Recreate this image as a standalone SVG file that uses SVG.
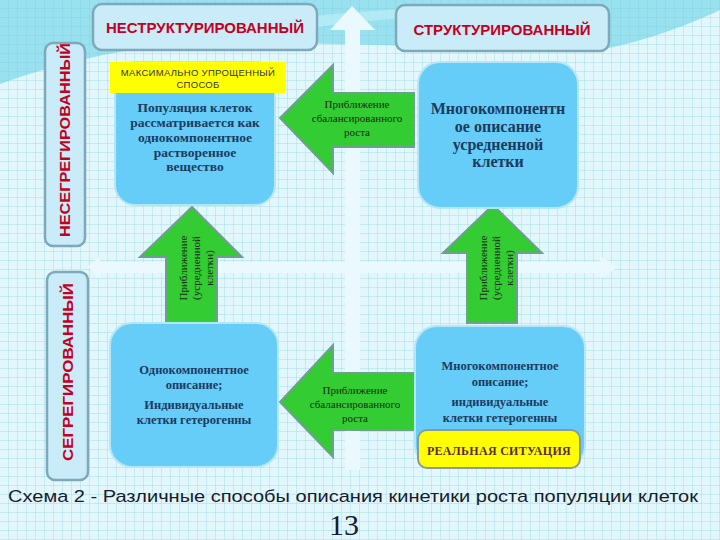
<svg xmlns="http://www.w3.org/2000/svg" width="720" height="540" viewBox="0 0 720 540">
<defs>
<pattern id="grid" width="9" height="9" patternUnits="userSpaceOnUse">
<rect width="9" height="9" fill="#e2f7fc"/>
<path d="M9 0V9M0 9H9" stroke="#a8dbe6" stroke-width="1" fill="none"/>
</pattern>
<style>
.hdr{fill:#c9ecf8;stroke:#7ea9ba;stroke-width:2.5}
.hdrt{font-family:"Liberation Sans",Arial,sans-serif;font-weight:bold;font-size:15px;fill:#c4001f;text-anchor:middle}
.node{fill:#66ccf8;stroke:#b5e6f6;stroke-width:2}
.nt{font-family:"Liberation Serif","Times New Roman",serif;font-weight:bold;fill:#1b3b5e;text-anchor:middle}
.arr{fill:#33cc33;stroke:#6f9f8f;stroke-width:2}
.at{font-family:"Liberation Serif","Times New Roman",serif;font-size:11px;fill:#1a2a1a;text-anchor:middle}
.pale{fill:#eaf9fd}
</style>
</defs>
<rect width="720" height="540" fill="url(#grid)"/>
<g id="background">
<path d="M0 0H720V10C690 24 650 40 600 50L330 44C220 40 130 38 0 84Z" fill="#5fcfe6" opacity="0.55"/>
<path d="M300 18C360 10 420 8 500 6L500 14C420 16 360 20 300 30Z" fill="#b8ecf6" opacity="0.8"/>
<path d="M345 30H330L352 6L375 30H360V470H345Z" class="pale"/>
<path d="M100 262H600V256L618 267L600 279V273H100V279L88 267L100 256Z" class="pale"/>
</g>
<g id="connectors">
<g id="arrow-top">
<path class="arr" d="M414 93V147H333V173L280 118L333 65V93Z"/>
<text class="at" x="357" y="108">Приближение</text>
<text class="at" x="357" y="122">сбалансированного</text>
<text class="at" x="357" y="136">роста</text>
</g>
<g id="arrow-bottom">
<path class="arr" d="M415 373V430H333V457L280 402L333 345V373Z"/>
<text class="at" x="355" y="394">Приближение</text>
<text class="at" x="355" y="408">сбалансированного</text>
<text class="at" x="355" y="422">роста</text>
</g>
<g id="arrow-left-up">
<path class="arr" d="M166 322V257H140L192 207L242 257H217V322Z"/>
<g transform="translate(197 268) rotate(-90)">
<text class="at" x="0" y="-10">Приближение</text>
<text class="at" x="0" y="3">(усредненной</text>
<text class="at" x="0" y="16">клетки)</text>
</g>
</g>
<g id="arrow-right-up">
<path class="arr" d="M467 323V253H443L493 205L542 253H517V323Z"/>
<g transform="translate(497 268) rotate(-90)">
<text class="at" x="0" y="-10">Приближение</text>
<text class="at" x="0" y="3">(усредненной</text>
<text class="at" x="0" y="16">клетки)</text>
</g>
</g>
</g>
<g id="header-unstructured">
<rect class="hdr" x="93" y="4" width="224" height="46" rx="9"/>
<text class="hdrt" x="205" y="33">НЕСТРУКТУРИРОВАННЫЙ</text>
</g>
<g id="header-structured">
<rect class="hdr" x="396" y="5" width="213" height="46" rx="9"/>
<text class="hdrt" x="502" y="35">СТРУКТУРИРОВАННЫЙ</text>
</g>
<g id="header-nonsegregated">
<rect class="hdr" x="45" y="43" width="40" height="203" rx="8"/>
<text class="hdrt" transform="translate(70 140) rotate(-90)" x="0" y="0" textLength="194" lengthAdjust="spacingAndGlyphs">НЕСЕГРЕГИРОВАННЫЙ</text>
</g>
<g id="header-segregated">
<rect class="hdr" x="47" y="272" width="41" height="208" rx="8"/>
<text class="hdrt" transform="translate(73 372) rotate(-90)" x="0" y="0" textLength="178" lengthAdjust="spacingAndGlyphs">СЕГРЕГИРОВАННЫЙ</text>
</g>
<g id="node-top-left">
<rect class="node" x="115" y="62" width="160" height="143" rx="20"/>
<rect x="110" y="62" width="176" height="31" fill="#ffff00"/>
<text x="198" y="76" font-family="Liberation Sans,Arial,sans-serif" font-size="9.5" fill="#333" text-anchor="middle" letter-spacing="0.3">МАКСИМАЛЬНО УПРОЩЕННЫЙ</text>
<text x="198" y="88" font-family="Liberation Sans,Arial,sans-serif" font-size="9.5" fill="#333" text-anchor="middle" letter-spacing="0.3">СПОСОБ</text>
<text class="nt" font-size="13.5" x="195" y="112">Популяция клеток</text>
<text class="nt" font-size="13.5" x="195" y="127">рассматривается как</text>
<text class="nt" font-size="13.5" x="195" y="142">однокомпонентное</text>
<text class="nt" font-size="13.5" x="195" y="157">растворенное</text>
<text class="nt" font-size="13.5" x="195" y="171">вещество</text>
</g>
<g id="node-top-right">
<rect class="node" x="418" y="62" width="160" height="146" rx="22"/>
<text class="nt" font-size="16" x="498" y="114">Многокомпонентн</text>
<text class="nt" font-size="16" x="498" y="132">ое описание</text>
<text class="nt" font-size="16" x="498" y="150">усредненной</text>
<text class="nt" font-size="16" x="498" y="167">клетки</text>
</g>
<g id="node-bottom-left">
<rect class="node" x="110" y="323" width="168" height="144" rx="22"/>
<text class="nt" font-size="12.5" x="194" y="374">Однокомпонентное</text>
<text class="nt" font-size="12.5" x="194" y="389">описание;</text>
<text class="nt" font-size="12.5" x="194" y="409">Индивидуальные</text>
<text class="nt" font-size="12.5" x="194" y="424">клетки гетерогенны</text>
</g>
<g id="node-bottom-right">
<rect class="node" x="415" y="326" width="170" height="141" rx="22"/>
<text class="nt" font-size="12.5" x="500" y="370">Многокомпонентное</text>
<text class="nt" font-size="12.5" x="500" y="386">описание;</text>
<text class="nt" font-size="12.5" x="500" y="406">индивидуальные</text>
<text class="nt" font-size="12.5" x="500" y="422">клетки гетерогенны</text>
<rect x="418" y="430" width="162" height="38" rx="9" fill="#ffff00" stroke="#8a9a9a" stroke-width="2"/>
<text x="499" y="455" font-family="Liberation Serif,Times New Roman,serif" font-weight="bold" font-size="12" fill="#5a2a48" text-anchor="middle" letter-spacing="0.3">РЕАЛЬНАЯ СИТУАЦИЯ</text>
</g>
<g id="caption">
<text x="8" y="502" font-family="Liberation Sans,Arial,sans-serif" font-size="17" fill="#1a1a2a" textLength="690" lengthAdjust="spacingAndGlyphs">Схема 2 - Различные способы описания кинетики роста популяции клеток</text>
<text x="344" y="535" font-family="Liberation Serif,Times New Roman,serif" font-size="30" fill="#1a1a2a" text-anchor="middle">13</text>
</g>
</svg>
